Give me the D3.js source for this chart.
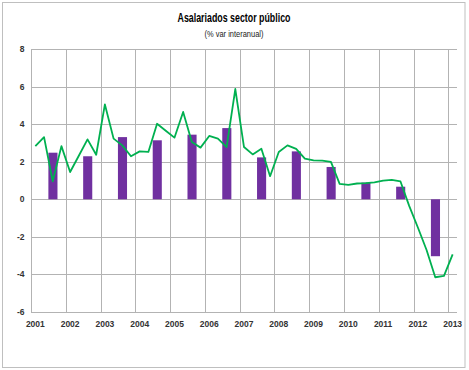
<!DOCTYPE html>
<html><head><meta charset="utf-8">
<script src="https://cdn.jsdelivr.net/npm/d3@7"></script>
<style>body{margin:0;background:#fff}svg{display:block}</style>
</head><body>
<script>
const quarters = ["2001T1","2001T2","2001T3","2001T4","2002T1","2002T2","2002T3","2002T4","2003T1","2003T2","2003T3","2003T4","2004T1","2004T2","2004T3","2004T4","2005T1","2005T2","2005T3","2005T4","2006T1","2006T2","2006T3","2006T4","2007T1","2007T2","2007T3","2007T4","2008T1","2008T2","2008T3","2008T4","2009T1","2009T2","2009T3","2009T4","2010T1","2010T2","2010T3","2010T4","2011T1","2011T2","2011T3","2011T4","2012T1","2012T2","2012T3","2012T4","2013T1"];
const quarterly = [2.83,3.31,0.96,2.83,1.45,2.32,3.19,2.37,5.05,3.23,2.87,2.29,2.55,2.52,4.02,3.65,3.28,4.65,3.05,2.75,3.37,3.23,2.78,5.87,2.78,2.39,2.69,1.23,2.52,2.87,2.68,2.16,2.07,2.06,1.99,0.82,0.77,0.84,0.86,0.90,0.99,1.03,0.95,-0.35,-1.50,-2.70,-4.15,-4.08,-2.93];
const annualQuarter = ["2001T3","2002T3","2003T3","2004T3","2005T3","2006T3","2007T3","2008T3","2009T3","2010T3","2011T3","2012T3"];
const annual = [2.48,2.29,3.31,3.14,3.44,3.79,2.23,2.55,1.72,0.89,0.67,-3.03];
const yearLabels = ["2001","2002","2003","2004","2005","2006","2007","2008","2009","2010","2011","2012","2013"];
const yTicks = [-6,-4,-2,0,2,4,6,8];

const W = 469, H = 370;
const svg = d3.select("body").append("svg").attr("width", W).attr("height", H);
const font = "'Liberation Sans Narrow', 'Liberation Sans', Arial, sans-serif";

svg.append("rect").attr("x", 2.5).attr("y", 2.5).attr("width", 462.5).attr("height", 365)
  .attr("fill", "#fff").attr("stroke", "#bfbfbf").attr("stroke-width", 1);

const x = d3.scaleBand().domain(quarters).range([31, 457]).paddingInner(0).paddingOuter(0);
const y = d3.scaleLinear().domain([-6, 8]).range([312, 49]);
const bw = x.bandwidth();

const grid = "#b3b3b3";
// horizontal gridlines
svg.append("g").selectAll("line").data(yTicks).join("line")
  .attr("x1", 31).attr("x2", 457)
  .attr("y1", d => Math.round(y(d)) + 0.5).attr("y2", d => Math.round(y(d)) + 0.5)
  .attr("stroke", grid).attr("stroke-width", 1);
// vertical gridlines at year boundaries
const yearStarts = yearLabels.map(yy => yy + "T1");
svg.append("g").selectAll("line").data(yearStarts).join("line")
  .attr("x1", d => Math.round(x(d)) + 0.5).attr("x2", d => Math.round(x(d)) + 0.5)
  .attr("y1", y(8)).attr("y2", y(-6))
  .attr("stroke", grid).attr("stroke-width", 1);

// y labels
svg.append("g").selectAll("text").data(yTicks).join("text")
  .attr("x", 24.5).attr("y", d => y(d) + 3)
  .attr("text-anchor", "end").attr("font-family", font).attr("font-size", 8.5)
  .attr("font-weight", "bold").attr("fill", "#333").text(d => d);

// x labels
svg.append("g").selectAll("text").data(yearLabels).join("text")
  .attr("x", d => x(d + "T1") + bw / 2).attr("y", 327)
  .attr("text-anchor", "middle").attr("font-family", font).attr("font-size", 8.5)
  .attr("font-weight", "bold").attr("fill", "#333").text(d => d);

// bars
svg.append("g").selectAll("rect").data(annual).join("rect")
  .attr("x", (d, i) => x(annualQuarter[i]))
  .attr("width", bw + 0.4)
  .attr("y", d => y(Math.max(0, d)))
  .attr("height", d => Math.abs(y(d) - y(0)))
  .attr("fill", "#7030a0");

// line
const line = d3.line().x((d, i) => x(quarters[i]) + bw / 2).y(d => y(d));
svg.append("path").datum(quarterly).attr("d", line)
  .attr("fill", "none").attr("stroke", "#00b050").attr("stroke-width", 1.8)
  .attr("stroke-linejoin", "round");

// titles
svg.append("text").attr("x", 234).attr("y", 22).attr("text-anchor", "middle")
  .attr("font-family", font).attr("font-size", 12.5).attr("font-weight", "bold")
  .attr("textLength", 113).attr("lengthAdjust", "spacingAndGlyphs")
  .attr("fill", "#000").text("Asalariados sector público");
svg.append("text").attr("x", 234).attr("y", 37).attr("text-anchor", "middle")
  .attr("font-family", font).attr("font-size", 9.5)
  .attr("textLength", 59).attr("lengthAdjust", "spacingAndGlyphs")
  .attr("fill", "#222").text("(% var interanual)");
</script>
</body></html>
